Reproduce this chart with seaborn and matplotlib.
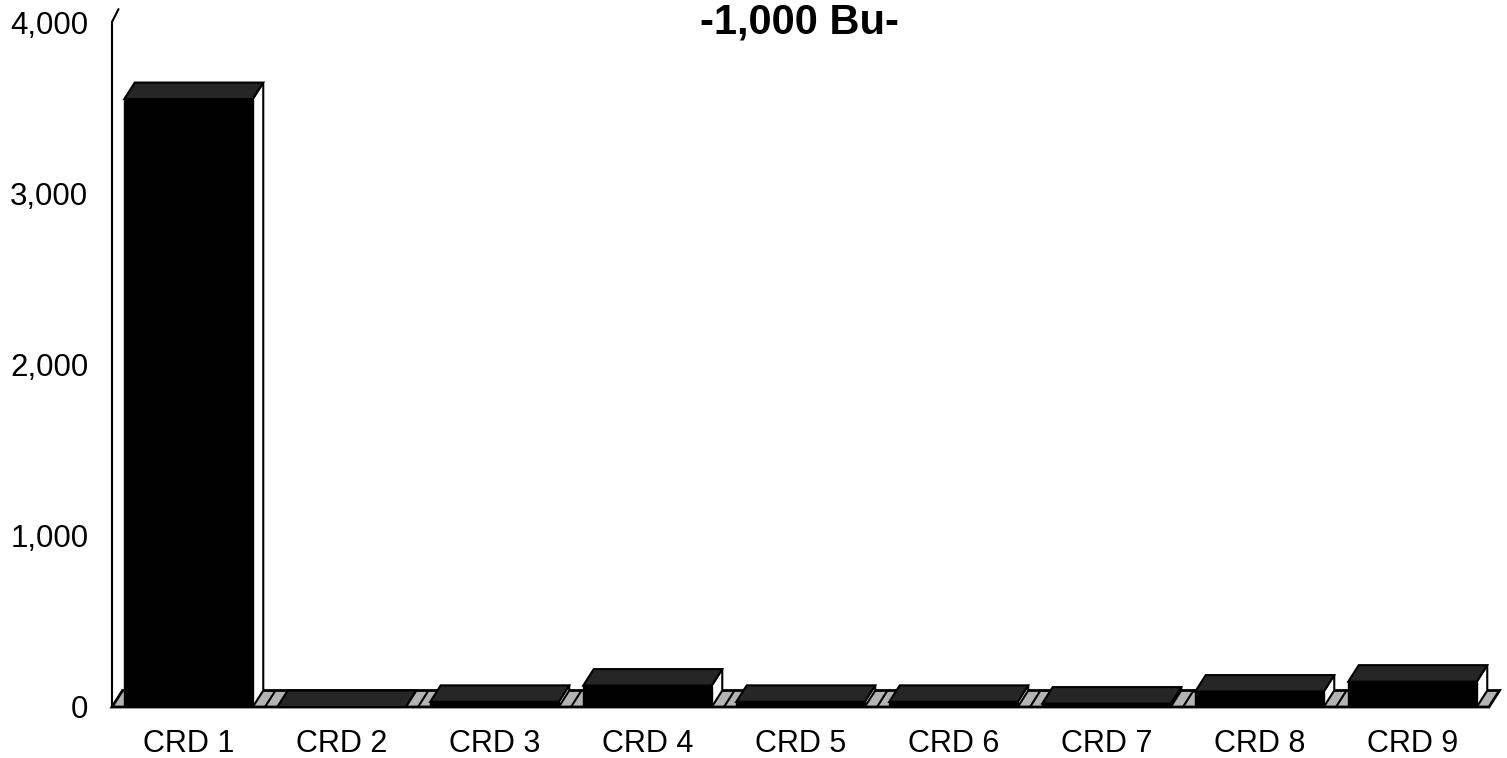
import matplotlib
matplotlib.use("Agg")
import matplotlib.pyplot as plt
import matplotlib.ticker as mticker
from matplotlib.patches import Polygon
import pandas as pd
import seaborn as sns

# values (thousand bushels)
regions = ["CRD 1", "CRD 2", "CRD 3", "CRD 4", "CRD 5", "CRD 6", "CRD 7", "CRD 8", "CRD 9"]
bushels = [3550, 0, 30, 125, 30, 30, 20, 90, 148]
y_ticks = [0, 1000, 2000, 3000, 4000]
title = "-1,000 Bu-"

sns.set_style("white")
plt.rcParams["font.family"] = ["Liberation Sans", "DejaVu Sans"]
plt.rcParams["text.color"] = "black"

df = pd.DataFrame({"region": regions, "bushels": bushels})

fig = plt.figure(figsize=(15.07, 7.58), dpi=100)
ax = fig.add_axes([112 / 1507, 51 / 758, 1377 / 1507, 685 / 758])

sns.barplot(data=df, x="region", y="bushels", color="black", saturation=1,
            width=0.84, edgecolor="black", linewidth=1, ax=ax, zorder=3)
ax.set_xlim(-0.5, len(regions) - 0.5)
ax.set_ylim(0, 4000)
ax.set_yticks(y_ticks)
ax.yaxis.set_major_formatter(mticker.StrMethodFormatter("{x:,.0f}"))
ax.set_xlabel("")
ax.set_ylabel("")

# depth offset of the fake 3d look, pixels -> data units
origin = ax.transData.transform((0, 0))
px_x = ax.transData.transform((1, 0))[0] - origin[0]
px_y = ax.transData.transform((0, 1000))[1] - origin[1]
dx = 10.5 / px_x
dy = 16.5 * 1000 / px_y

bars = list(ax.patches)

# floor
x_lo, x_hi = ax.get_xlim()
ax.add_patch(Polygon([(x_lo, 0), (x_hi, 0), (x_hi + dx, dy), (x_lo + dx, dy)],
                     closed=True, facecolor="#b3b3b3", edgecolor="black",
                     linewidth=2, zorder=1, clip_on=False))
for k in range(1, len(regions)):
    ax.plot([k - 0.5, k - 0.5 + dx], [0, dy], color="black", linewidth=1.5,
            zorder=1.5, clip_on=False)

# top and side faces of each bar
for bar in bars:
    x0, w, h = bar.get_x(), bar.get_width(), bar.get_height()
    x1 = x0 + w
    ax.add_patch(Polygon([(x1, 0), (x1 + dx, dy), (x1 + dx, h + dy), (x1, h)],
                         closed=True, facecolor="white", edgecolor="black",
                         linewidth=1.5, zorder=2, clip_on=False))
    ax.add_patch(Polygon([(x0, h), (x1, h), (x1 + dx, h + dy), (x0 + dx, h + dy)],
                         closed=True, facecolor="#262626", edgecolor="black",
                         linewidth=1.5, zorder=2.5, clip_on=False))

# wall edge at top of the value axis
ax.plot([x_lo, x_lo + dx * 0.62], [4000, 4000 + dy * 0.78], color="black",
        linewidth=1.5, clip_on=False)

for side in ["top", "right", "bottom"]:
    ax.spines[side].set_visible(False)
ax.spines["left"].set_linewidth(1.5)
ax.spines["left"].set_color("black")

ax.tick_params(axis="y", length=0, pad=17, labelsize=22.5, labelcolor="black")
ax.tick_params(axis="x", length=0, pad=16, labelsize=22, labelcolor="black")

fig.text(799 / 1507, 1 - 3 / 758, title, ha="center", va="top",
         fontsize=30, fontweight="bold", color="black")

fig.savefig("out.png", dpi=100)
